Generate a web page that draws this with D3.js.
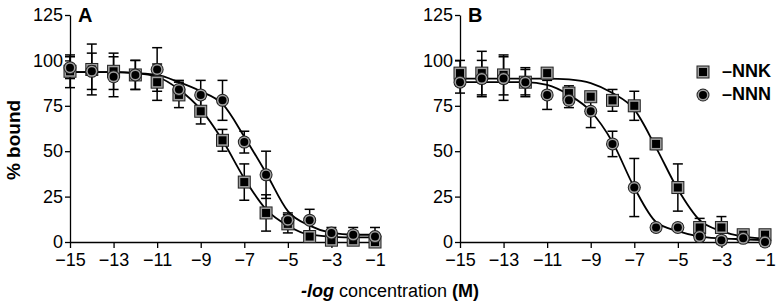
<!DOCTYPE html>
<html>
<head>
<meta charset="utf-8">
<script src="https://cdn.jsdelivr.net/npm/d3@7/dist/d3.min.js"></script>
<style>
  body { margin: 0; background: white; }
  text { font-family: "Liberation Sans", Arial, Helvetica, sans-serif; }
</style>
</head>
<body>
<div id="canvas"></div>
<script>
"use strict"
let svgWidth = 780;
let svgHeight = 306;

// x values (-log concentration), the same for every series
let concentrations = [-15, -14, -13, -12, -11, -10, -9, -8, -7, -6, -5, -4, -3, -2, -1];
let xTicks = [-15, -13, -11, -9, -7, -5, -3, -1];
let yTicks = [0, 25, 50, 75, 100, 125];

// panel A measured points and error bars
let nnkA = [94, 95, 94, 92, 88, 81, 72, 56, 33, 16, 10, 3, 1, 1, 0];
let nnkAErr = [9, 14, 10, 8, 10, 7, 7, 6, 10, 10, 5, 3, 2, 2, 2];
let nnnA = [96, 94, 91, 92, 95, 84, 81, 78, 55, 37, 12, 12, 5, 4, 3];
let nnnAErr = [6, 10, 11, 8, 12, 5, 8, 11, 6, 13, 4, 6, 3, 4, 5];

// panel B measured points and error bars
let nnkB = [93, 93, 92, 88, 93, 82, 80, 78, 75, 54, 30, 8, 8, 4, 4];
let nnkBErr = [7, 12, 11, 8, 2, 4, 2, 6, 8, 3, 13, 5, 6, 2, 2];
let nnnB = [88, 90, 90, 88, 81, 78, 72, 54, 30, 8, 8, 3, 1, 2, 0];
let nnnBErr = [6, 10, 12, 7, 8, 4, 9, 7, 16, 2, 2, 2, 2, 2, 2];

// fitted curves at each concentration
let nnkAFit = [93.5, 93.5, 93.5, 93, 91, 84, 73, 56, 35, 18, 9, 4, 3, 2.5, 2.5];
let nnnAFit = [93.5, 93.5, 93.5, 93, 92, 88, 83, 76, 58, 38, 17, 9, 5, 4, 4];
let nnkBFit = [90, 90, 90, 90, 90, 89.5, 87.5, 82, 73, 52, 29, 12, 6, 3, 2];
let nnnBFit = [88, 88, 88, 88, 86.5, 81, 72, 55, 30, 11, 6, 3, 2, 1.5, 1];

let svg = d3.select("#canvas")
    .append("svg")
    .attr("width", svgWidth)
    .attr("height", svgHeight);

// y scale is shared by both panels
let yScale = d3.scaleLinear()
    .domain([0, 125])
    .range([242, 15]);

// draws one panel: axes, fits, error bars, markers
function drawPanel(left, letter, nnk, nnkErr, nnn, nnnErr, nnkFit, nnnFit) {
    let xScale = d3.scaleLinear()
        .domain([-15, -1])
        .range([left, left + 305]);

    let xAxis = svg.append("g")
        .attr("transform", "translate(0," + yScale(0) + ")")
        .call(d3.axisBottom(xScale)
            .tickValues(xTicks)
            .tickSize(6)
            .tickSizeOuter(0)
            .tickPadding(5)
            .tickFormat(function(d) { return "\u2212" + Math.abs(d); }));

    let yAxis = svg.append("g")
        .attr("transform", "translate(" + left + ",0)")
        .call(d3.axisLeft(yScale)
            .tickValues(yTicks)
            .tickSize(5)
            .tickSizeOuter(0)
            .tickPadding(2));

    svg.selectAll(".tick text")
        .attr("font-size", 18)
        .attr("font-family", "Liberation Sans, Arial, sans-serif")
        .attr("fill", "black");
    svg.selectAll(".domain, .tick line")
        .attr("stroke", "black")
        .attr("stroke-width", 1.3);

    // panel letter
    svg.append("text")
        .attr("x", left + 8)
        .attr("y", 22)
        .attr("font-size", 20)
        .attr("font-weight", "bold")
        .text(letter);

    let line = d3.line()
        .x(function(d, i) { return xScale(concentrations[i]); })
        .y(function(d) { return yScale(d); })
        .curve(d3.curveMonotoneX);

    [nnkFit, nnnFit].forEach(function(fit) {
        svg.append("path")
            .attr("d", line(fit))
            .attr("fill", "none")
            .attr("stroke", "black")
            .attr("stroke-width", 1.8);
    });

    // error bars for both series
    let series = [
        {values: nnk, errs: nnkErr, shape: "square"},
        {values: nnn, errs: nnnErr, shape: "circle"}
    ];
    series.forEach(function(s) {
        for (let i = 0; i < s.values.length; i++) {
            let x = xScale(concentrations[i]);
            let top = yScale(s.values[i] + s.errs[i]);
            let bottom = yScale(s.values[i] - s.errs[i]);
            svg.append("line")
                .attr("x1", x).attr("x2", x)
                .attr("y1", top).attr("y2", bottom)
                .attr("stroke", "black").attr("stroke-width", 1.5);
            [top, bottom].forEach(function(y) {
                svg.append("line")
                    .attr("x1", x - 5).attr("x2", x + 5)
                    .attr("y1", y).attr("y2", y)
                    .attr("stroke", "black").attr("stroke-width", 1.5);
            });
        }
    });

    // markers drawn last so they sit on top of lines
    series.forEach(function(s) {
        for (let i = 0; i < s.values.length; i++) {
            drawMarker(s.shape, xScale(concentrations[i]), yScale(s.values[i]));
        }
    });
}

// marker: dark outline, grey ring, black middle
function drawMarker(shape, x, y) {
    let layers = [
        {size: 13, fill: "#222"},
        {size: 11, fill: "#a0a0a0"},
        {size: 8, fill: "#000"}
    ];
    layers.forEach(function(l) {
        if (shape == "square") {
            svg.append("rect")
                .attr("x", x - l.size / 2)
                .attr("y", y - l.size / 2)
                .attr("width", l.size)
                .attr("height", l.size)
                .attr("fill", l.fill);
        } else {
            svg.append("circle")
                .attr("cx", x)
                .attr("cy", y)
                .attr("r", l.size / 2)
                .attr("fill", l.fill);
        }
    });
}

drawPanel(70, "A", nnkA, nnkAErr, nnnA, nnnAErr, nnkAFit, nnnAFit);
drawPanel(460, "B", nnkB, nnkBErr, nnnB, nnnBErr, nnkBFit, nnnBFit);

// y axis title
svg.append("text")
    .attr("transform", "rotate(-90)")
    .attr("x", -140)
    .attr("y", 15)
    .attr("text-anchor", "middle")
    .attr("dominant-baseline", "middle")
    .attr("font-size", 19)
    .attr("font-weight", "bold")
    .text("% bound");

// x axis title with mixed styles
let xTitle = svg.append("text")
    .attr("x", 390)
    .attr("y", 297)
    .attr("text-anchor", "middle")
    .attr("font-size", 18);
xTitle.append("tspan")
    .attr("font-weight", "bold")
    .attr("font-style", "italic")
    .text("-log");
xTitle.append("tspan").text(" concentration ");
xTitle.append("tspan")
    .attr("font-weight", "bold")
    .text("(M)");

// legend
let legendItems = [
    {shape: "square", label: "\u2013NNK"},
    {shape: "circle", label: "\u2013NNN"}
];
for (let i = 0; i < legendItems.length; i++) {
    let yPosition = 72 + i * 23;
    drawMarker(legendItems[i].shape, 703, yPosition);
    svg.append("text")
        .attr("x", 722)
        .attr("y", yPosition)
        .attr("dominant-baseline", "middle")
        .attr("font-size", 18)
        .attr("font-weight", "bold")
        .text(legendItems[i].label);
}
</script>
</body>
</html>
